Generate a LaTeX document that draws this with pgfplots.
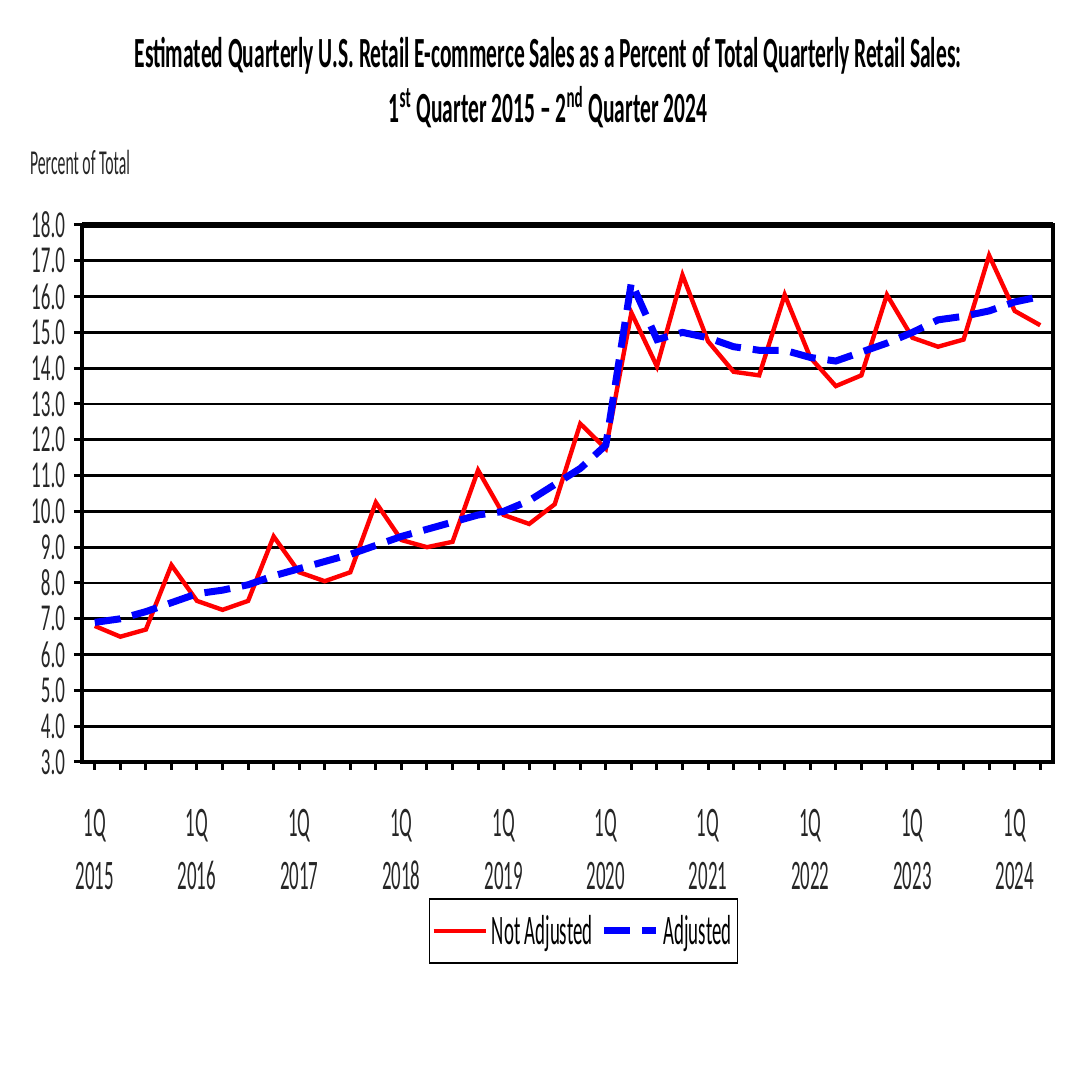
\documentclass[border=0pt]{standalone}
\usepackage{pgfplots}
\usepackage{pgfplotstable}
\pgfplotsset{compat=1.18}
\usepackage{fontspec}
\setmainfont{Carlito}[FakeStretch=0.45]
\newfontfamily\titlefont{Carlito}[FakeStretch=0.5, Ligatures=TeX]
\newfontfamily\tickfont{Carlito}[FakeStretch=0.5]

\pgfplotstableread{
q na adj
0 6.8 6.9
1 6.5 7.0
2 6.7 7.2
3 8.5 7.45
4 7.5 7.7
5 7.25 7.8
6 7.5 7.95
7 9.3 8.2
8 8.3 8.4
9 8.05 8.6
10 8.3 8.8
11 10.25 9.05
12 9.2 9.3
13 9.0 9.5
14 9.15 9.7
15 11.15 9.9
16 9.9 10.0
17 9.65 10.3
18 10.2 10.75
19 12.45 11.2
20 11.75 11.85
21 15.55 16.4
22 14.05 14.8
23 16.6 15.0
24 14.75 14.85
25 13.9 14.6
26 13.8 14.5
27 16.05 14.5
28 14.3 14.3
29 13.5 14.2
30 13.8 14.45
31 16.05 14.7
32 14.85 15.0
33 14.6 15.35
34 14.8 15.45
35 17.15 15.6
36 15.6 15.85
37 15.2 16.0
}\data

\begin{document}
\begin{tikzpicture}
\path[use as bounding box] (0,0) rectangle (540pt,540pt);
\begin{axis}[
  at={(41pt,159pt)}, anchor=south west,
  scale only axis, width=485.5pt, height=268.5pt,
  xmin=-0.5, xmax=37.5, ymin=3, ymax=18,
  axis line style={black, line width=1.6pt},
  ytick={3,...,18},
  ymajorgrids, grid style={black, line width=1.4pt},
  xtick={0,4,...,36},
  minor xtick={0,...,37},
  xticklabels={{1Q\\2015},{1Q\\2016},{1Q\\2017},{1Q\\2018},{1Q\\2019},{1Q\\2020},{1Q\\2021},{1Q\\2022},{1Q\\2023},{1Q\\2024}},
  xtick pos=bottom, ytick pos=left,
  tick align=outside,
  major tick length=4pt, minor tick length=4pt,
  every tick/.style={black, line width=1.5pt},
  every minor tick/.style={black, line width=1.5pt},
  yticklabel style={font=\tickfont\fontsize{19}{19}\selectfont, text=black!85, inner ysep=0pt, xshift=-1pt},
  xticklabel style={align=center, font=\fontsize{21}{26.5}\selectfont, text=black!85, yshift=-16pt},
  /pgf/number format/.cd, fixed, fixed zerofill, precision=1, assume math mode=true,
  /pgfplots/.cd,
  legend style={at={(0.5165,-0.3147)}, anchor=center, legend columns=2,
    draw=black, line width=0.7pt, inner xsep=1pt, inner ysep=6pt,
    font=\fontsize{21}{21}\selectfont,
    /tikz/every even column/.append style={column sep=2pt}},
  legend image code/.code={\draw[#1] (0pt,0pt) -- (26pt,0pt);},
]
\addplot[red, line width=2.2pt, line join=miter] table[x=q, y=na] {\data};
\addlegendentry{Not Adjusted}
\addplot[blue, line width=3.5pt, dash pattern=on 13pt off 6pt] table[x=q, y=adj] {\data};
\addlegendentry{Adjusted}
\end{axis}
\draw[black, line width=2.6pt] (41pt,427.5pt) -- (526.5pt,427.5pt);
\node[anchor=west, font=\fontsize{17.5}{17.5}\selectfont, text=black!85] at (11.5pt,459pt) {Percent of Total};
\node[align=center, font=\titlefont\bfseries\fontsize{21.5}{27.5}\selectfont] at (274pt,498.5pt)
  {Estimated Quarterly U.S. Retail E-commerce Sales as a Percent of Total Quarterly Retail Sales:\\
   1\textsuperscript{st} Quarter 2015 \textendash{} 2\textsuperscript{nd} Quarter 2024};
\end{tikzpicture}
\end{document}
